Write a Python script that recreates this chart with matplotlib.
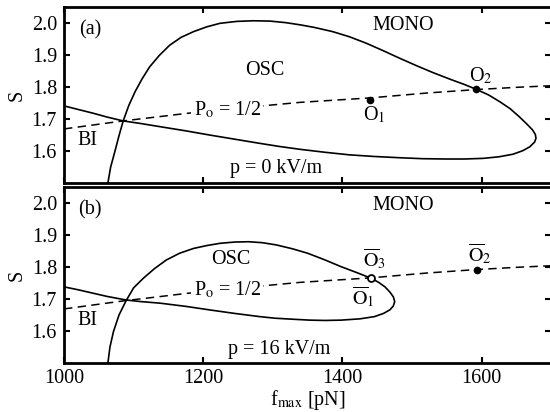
import numpy as np
import matplotlib
matplotlib.use("Agg")
import matplotlib.pyplot as plt

plt.rcParams['font.family'] = ['Liberation Serif', 'DejaVu Serif']
plt.rcParams['mathtext.fontset'] = 'stix'

# bifurcation boundary, p = 0 kV/m (one curve: left branch, loop, lower branch)
f_a = [1063, 1067, 1073, 1079, 1085, 1093, 1102, 1112, 1123, 1137, 1152, 1168,
       1186, 1205, 1224, 1248, 1272, 1296, 1319, 1340, 1360, 1386, 1410, 1434,
       1458, 1482, 1506, 1530, 1555, 1575, 1592, 1610, 1626, 1641, 1654, 1665,
       1673, 1677, 1678, 1676, 1669, 1659, 1645, 1625, 1602, 1575, 1549, 1515,
       1482, 1445, 1410, 1375, 1340, 1310, 1281, 1245, 1209, 1175, 1138, 1110,
       1085, 1062, 1042, 1020, 1000]
S_a = [1.500, 1.550, 1.598, 1.648, 1.694, 1.742, 1.785, 1.825, 1.863, 1.899, 1.931, 1.955,
       1.973, 1.988, 1.999, 2.005, 2.007, 2.006, 2.001, 1.994, 1.986, 1.973, 1.957, 1.937,
       1.914, 1.890, 1.867, 1.845, 1.824, 1.808, 1.793, 1.775, 1.754, 1.732, 1.707, 1.684,
       1.666, 1.652, 1.640, 1.628, 1.613, 1.601, 1.590, 1.582, 1.577, 1.575, 1.575, 1.576,
       1.579, 1.583, 1.588, 1.596, 1.605, 1.614, 1.624, 1.637, 1.650, 1.663, 1.676, 1.686,
       1.694, 1.706, 1.718, 1.730, 1.741]

# bifurcation boundary, p = 16 kV/m
f_b = [1063, 1066, 1071, 1079, 1089, 1100, 1114, 1130, 1147, 1166, 1186, 1205,
       1224, 1245, 1265, 1285, 1305, 1328, 1350, 1375, 1398, 1420, 1441, 1452,
       1461, 1468, 1473, 1475, 1473, 1468, 1459, 1446, 1425, 1398, 1375, 1353,
       1327, 1303, 1281, 1245, 1209, 1175, 1138, 1110, 1089, 1062, 1042, 1020, 1000]
S_b = [1.500, 1.550, 1.598, 1.650, 1.694, 1.735, 1.765, 1.795, 1.822, 1.843, 1.858, 1.867,
       1.874, 1.878, 1.879, 1.876, 1.869, 1.857, 1.843, 1.822, 1.801, 1.783, 1.765, 1.752,
       1.738, 1.722, 1.707, 1.692, 1.678, 1.666, 1.655, 1.645, 1.638, 1.634, 1.633, 1.634,
       1.637, 1.640, 1.645, 1.655, 1.666, 1.677, 1.687, 1.692, 1.697, 1.708, 1.718, 1.729, 1.738]

# P_o = 1/2 line (same in both panels)
f_half = [1000, 1085, 1178, 1260, 1339, 1440, 1520, 1592, 1650, 1700]
S_half = [1.669, 1.694, 1.718, 1.736, 1.752, 1.766, 1.781, 1.792, 1.799, 1.804]

# marked states
O1 = (1440, 1.760)
O2 = (1592, 1.793)
O3 = (1441, 1.765)
O2b = (1593, 1.791)

fs = 14.5
fig = plt.figure(figsize=(5.5, 4.12), dpi=100)
ax_a = fig.add_axes([0.1164, 0.5558, 0.886, 0.4272])
ax_b = fig.add_axes([0.1164, 0.1189, 0.886, 0.4272])

for ax in (ax_a, ax_b):
    ax.set_xlim(1000, 1700)
    ax.set_ylim(1.5, 2.05)
    ax.set_xticks([1000, 1200, 1400, 1600])
    ax.set_yticks([1.6, 1.7, 1.8, 1.9, 2.0])
    ax.tick_params(direction='in', top=True, right=True, length=4, width=1.5,
                   labelsize=fs, pad=5)
    for s in ax.spines.values():
        s.set_linewidth(2.0)
    ax.set_ylabel('S', fontsize=fs, labelpad=4)
    ax.plot(f_half, S_half, color='black', lw=1.1, dashes=(5.5, 3.5))
    ax.text(1037, 1.98, '(a)' if ax is ax_a else '(b)', fontsize=fs,
            ha='center', va='center')
    ax.text(1033, 1.634, 'BI', fontsize=fs, ha='center', va='center')
    ax.text(1487, 1.978, 'MONO', fontsize=fs, ha='center', va='baseline')
    ax.text(1186, 1.712, r'P$_{\mathrm{o}}$ = 1/2', fontsize=fs, ha='left',
            va='baseline', bbox=dict(fc='white', ec='none', pad=1.5))

ax_a.set_xticklabels([])
ax_b.tick_params(axis='x', pad=4)

# panel (a)
ax_a.plot(f_a, S_a, color='black', lw=1.2)
ax_a.text(1289, 1.851, 'OSC', fontsize=fs, ha='center', va='center')
ax_a.text(1238, 1.530, 'p = 0 kV/m', fontsize=fs, ha='left', va='baseline')
ax_a.plot(*O1, 'o', color='black', ms=4.5, zorder=5)
ax_a.plot(*O2, 'o', color='black', ms=4.5, zorder=5)
ax_a.text(1430, 1.697, r'O$_1$', fontsize=fs, ha='left', va='baseline')
ax_a.text(1582, 1.817, r'O$_2$', fontsize=fs, ha='left', va='baseline')

# panel (b)
ax_b.plot(f_b, S_b, color='black', lw=1.2)
ax_b.text(1239, 1.822, 'OSC', fontsize=fs, ha='center', va='center')
ax_b.text(1236, 1.529, 'p = 16 kV/m', fontsize=fs, ha='left', va='baseline')
ax_b.plot(*O3, 'o', mfc='white', mec='black', mew=1.3, ms=5, zorder=5)
ax_b.plot(*O2b, 'o', color='black', ms=4.5, zorder=5)
ax_b.text(1430, 1.801, r'$\overline{\mathrm{O}}_3$', fontsize=fs, ha='left', va='baseline')
ax_b.text(1414, 1.683, r'$\overline{\mathrm{O}}_1$', fontsize=fs, ha='left', va='baseline')
ax_b.text(1581, 1.817, r'$\overline{\mathrm{O}}_2$', fontsize=fs, ha='left', va='baseline')
ax_b.set_xlabel(r'f$_{\mathrm{max}}$ [pN]', fontsize=fs)
ax_b.xaxis.set_label_coords(0.5, -0.14)

fig.savefig('out.png', dpi=100)
